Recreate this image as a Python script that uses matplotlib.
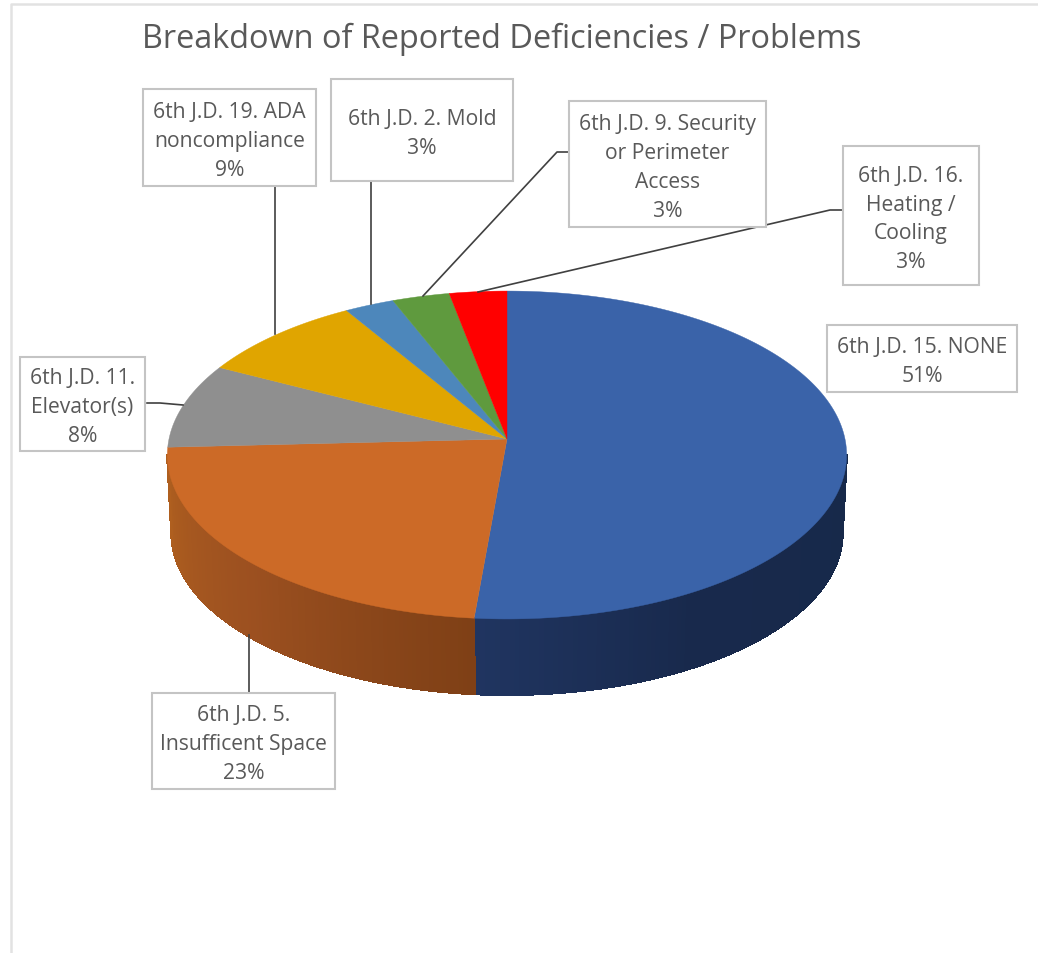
import numpy as np
import matplotlib
matplotlib.use("Agg")
import matplotlib.pyplot as plt
from matplotlib.collections import PolyCollection
from matplotlib.patches import Rectangle

plt.rcParams["font.family"] = ["Open Sans", "DejaVu Sans"]

TITLE = "Breakdown of Reported Deficiencies / Problems"

# slices, clockwise from 12 o'clock (labels show these rounded)
names = ["6th J.D. 15. NONE", "6th J.D. 5.\nInsufficent Space", "6th J.D. 11.\nElevator(s)",
         "6th J.D. 19. ADA\nnoncompliance", "6th J.D. 2. Mold",
         "6th J.D. 9. Security\nor Perimeter\nAccess", "6th J.D. 16.\nHeating /\nCooling"]
values = [51.4, 22.8, 8.4, 8.8, 2.6, 3.0, 3.0]
colors = ["#3a63a9", "#cc6a27", "#8f8f8f", "#e0a500", "#4d87bb", "#5f9a3e", "#ff0000"]

# label boxes (x0, y0, x1, y1) in image pixels
boxes = [(827, 326, 1017, 393), (152, 694, 335, 790), (20, 358, 145, 452),
         (143, 90, 316, 187), (331, 80, 513, 182), (569, 102, 766, 228),
         (843, 147, 979, 286)]
leaders = [None,
           [(249, 694), (249, 636)],
           [(147, 404), (160, 404), (183, 406)],
           [(275, 187), (275, 335)],
           [(371, 182), (371, 305)],
           [(569, 153), (557, 153), (423, 297)],
           [(843, 211), (830, 211), (478, 293)]]

# pie geometry: a circle seen in perspective
CX, CY, RX, RY, K = 507, 440, 338, 162.4, 0.0976
DEPTH, SHRINK = 78, 0.988


def rim(theta, lower=False):
    """Image position of the pie rim, theta clockwise from the top in degrees."""
    t = np.radians(theta)
    u, v = np.sin(t), np.cos(t)
    w = 1 + K * v
    if lower:
        return CX + SHRINK * RX * u / w, CY + DEPTH - SHRINK * RY * v / w
    return CX + RX * u / w, CY - RY * v / w


def wall_color(i, theta):
    # side shading
    if i == 0:
        stops = ([100, 150, 186], ["#17294a", "#18294c", "#203561"])
    else:
        stops = ([186, 225, 266], ["#7f4016", "#9c5020", "#b0601f"])
    rgb = np.array([matplotlib.colors.to_rgb(c) for c in stops[1]])
    return [np.interp(theta, stops[0], rgb[:, j]) for j in range(3)]


fig = plt.figure(figsize=(10.38, 9.54), dpi=100)
ax = fig.add_axes([0, 0, 1, 1])
ax.set_xlim(0, 1038)
ax.set_ylim(954, 0)
ax.axis("off")

# chart frame
ax.plot([10.5, 10.5, 1038], [954, 4.5, 4.5], color="#e2e2e2", lw=1.8, zorder=1)

edges = np.concatenate([[0], np.cumsum(values)]) * 3.6

# side wall first, top face over it; only the front part between the silhouette points
side = np.degrees(np.arccos(-K))
quads, quad_cols = [], []
for i in range(2):
    th = np.linspace(max(edges[i], side), min(edges[i + 1], 360 - side), 120)
    for t0, t1 in zip(th[:-1], th[1:]):
        quads.append([rim(t0), rim(t1), rim(t1, True), rim(t0, True)])
        quad_cols.append(wall_color(i, (t0 + t1) / 2))
ax.add_collection(PolyCollection(quads, facecolors=quad_cols, edgecolors=quad_cols,
                                 linewidths=1.0, antialiaseds=False, zorder=2))

for i, c in enumerate(colors):
    th = np.linspace(edges[i], edges[i + 1], 200)
    x, y = rim(th)
    ax.fill(np.r_[CX, x], np.r_[CY, y], color=c, lw=0.3, zorder=3)

# leaders then labels
for seg in leaders:
    if seg:
        ax.plot(*zip(*seg), color="#404040", lw=1.2, zorder=4)

for name, val, b in zip(names, values, boxes):
    ax.add_patch(Rectangle((b[0], b[1]), b[2] - b[0], b[3] - b[1], fc="white",
                           ec="#c4c4c4", lw=1.5, zorder=5))
    ax.text((b[0] + b[2]) / 2, (b[1] + b[3]) / 2 + 3, f"{name}\n{val:.0f}%", ha="center",
            va="center", fontsize=15.2, color="#595959", linespacing=1.5, zorder=6)

ax.text(502, 39, TITLE, ha="center", va="center", fontsize=23.4, color="#595959")

fig.savefig("out.png", dpi=100)
